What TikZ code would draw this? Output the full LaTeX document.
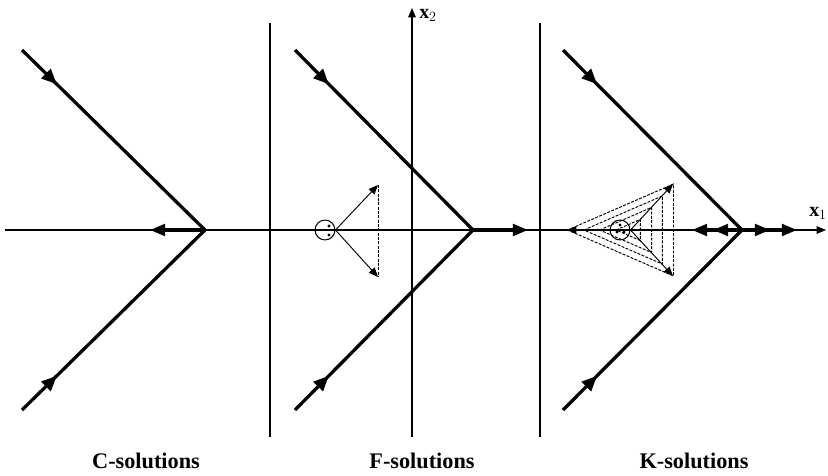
\documentclass[tikz,border=0pt]{standalone}
\usepackage{fontspec}
\setmainfont{Liberation Serif}
\usetikzlibrary{arrows.meta,decorations.markings,calc}
\tikzset{
  ph/axis/.style={line width=0.9pt},
  ph/tipbig/.style={-{Triangle[length=13pt,width=10pt]}},
  ph/tipsmall/.style={-{Triangle[length=8pt,width=6.5pt]}},
  ph/branch/.style={line width=2.8pt, postaction={decorate},
    decoration={markings, mark=at position 0.19 with {\arrow{Triangle[length=13pt,width=11pt]}}}},
  ph/flow/.style={line width=2.8pt, ph/tipbig},
  ph/thin/.style={line width=0.8pt},
  ph/dash/.style={line width=0.8pt, dash pattern=on 2.5pt off 1.2pt},
  ph/ring/.style={draw, circle, line width=0.9pt, minimum size=17pt, inner sep=0pt},
  ph/caption/.style={font=\fontsize{19}{21}\selectfont\bfseries},
  ph/axlab/.style={font=\fontsize{17}{18}\selectfont\bfseries, inner sep=0pt}
}
\begin{document}
\begin{tikzpicture}[x=0.03cm, y=-0.03cm]
\useasboundingbox (0,0) rectangle (828,476);
% axes and panel separators
\coordinate (x1s) at (5,230);
\coordinate (x1e) at (826,230);
\coordinate (x2s) at (412,437);
\coordinate (x2e) at (412,8);
\draw[ph/axis, ph/tipsmall] (x1s) -- (x1e);
\draw[ph/axis, ph/tipsmall] (x2s) -- (x2e);
\node[ph/axlab] (x1lab) at (818,213) {x$_1$};
\node[ph/axlab] (x2lab) at (428,15) {x$_2$};
\foreach \n/\x in {sepa/270, sepb/540} {
  \coordinate (\n t) at (\x,23);
  \coordinate (\n b) at (\x,437);
  \draw[ph/axis] (\n t) -- (\n b);
}
% the three V-shaped branches
\foreach \n/\vx/\sx in {c/205/22, f/473/295, k/742/563} {
  \coordinate (\n v) at (\vx,230);
  \coordinate (\n u) at (\sx,50);
  \coordinate (\n d) at (\sx,410);
  \draw[ph/branch] (\n u) -- (\n v);
  \draw[ph/branch] (\n d) -- (\n v);
}
% flows along x1
\coordinate (cl) at (150,230);
\draw[ph/flow] (cv) -- (cl);
\coordinate (fr) at (528,230);
\draw[ph/flow] (fv) -- (fr);
\coordinate (kla) at (713,230);
\coordinate (klb) at (692,230);
\coordinate (kra) at (770,230);
\coordinate (krb) at (797,230);
\draw[ph/flow] (kv) -- (klb);
\draw[ph/flow] (kv) -- (kla);
\draw[ph/flow] (kv) -- (krb);
\draw[ph/flow] (kv) -- (kra);
% F-solutions: fan from the circled point
\node[ph/ring] (fc) at (325,230) {};
\fill (329,226) circle (1.6) (329,235) circle (1.6);
\coordinate (fa) at (378,185);
\coordinate (fb) at (378,277);
\draw[ph/thin, ph/tipsmall] (fc.east) -- (fa);
\draw[ph/thin, ph/tipsmall] (fc.east) -- (fb);
\draw[ph/dash] (fa) -- (fb);
% K-solutions: nested dashed triangles
\node[ph/ring] (kc) at (620,230) {};
\fill (620,225) circle (1.6) (617,232) circle (1.6) (624,232) circle (1.6);
\coordinate (ka) at (673,184);
\coordinate (kb) at (673,276);
\coordinate (kt) at (567,230);
\draw[ph/thin, ph/tipsmall] (kc.east) -- (ka);
\draw[ph/thin, ph/tipsmall] (kc.east) -- (kb);
\draw[ph/thin, ph/tipsmall] (kc.west) -- (kt);
\foreach \s in {1,0.74,0.49,0.23}
  \draw[ph/dash] ($(kc.east)+(-63*\s,0)$) -- ($(kc.east)+(43*\s,-46*\s)$)
    -- ($(kc.east)+(43*\s,46*\s)$) -- cycle;
% captions
\node[ph/caption] (capc) at (146,461) {C-solutions};
\node[ph/caption] (capf) at (422,461) {F-solutions};
\node[ph/caption] (capk) at (694,461) {K-solutions};
\end{tikzpicture}
\end{document}
